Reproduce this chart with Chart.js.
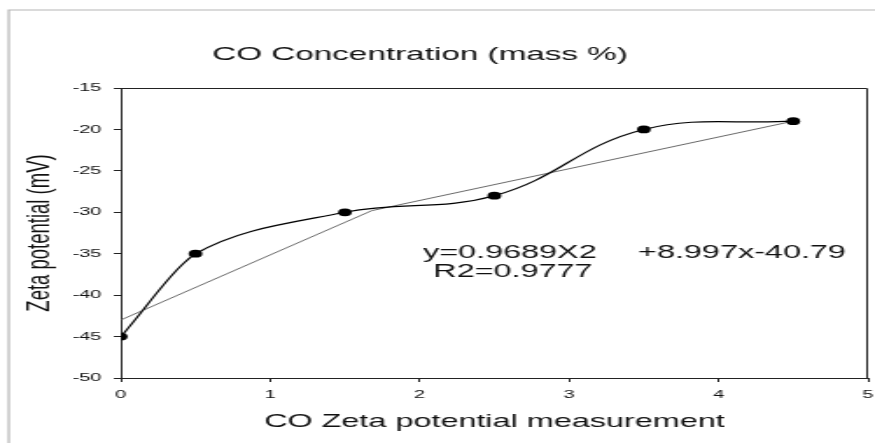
<!DOCTYPE html>
<html><head><meta charset="utf-8">
<script src="https://cdn.jsdelivr.net/npm/chart.js@4.4.1/dist/chart.umd.min.js"></script>
<style>
html,body{margin:0;padding:0;background:#fff;overflow:hidden}
canvas{display:block}
</style>
</head><body>
<!-- drawn on a narrow canvas and widened by CSS, giving the wide lettering and oval markers -->
<canvas id="c" width="500" height="443" style="width:875px;height:443px"></canvas>
<script>
// measured zeta potential at each CO level
const measureX = [0, 0.5, 1.5, 2.5, 3.5, 4.5];
const zetaY = [-45, -35, -30, -28, -20, -19];
// trend segments
const trendX = [0, 1.68, 4.5];
const trendY = [-43, -29.8, -19];
// axis ticks
const xTicks = [0, 1, 2, 3, 4, 5];
const yTicks = [-50, -45, -40, -35, -30, -25, -20, -15];
// texts
const titleText = 'CO Concentration (mass %)';
const xTitle = 'CO Zeta potential measurement';
const yTitle = 'Zeta potential (mV)';
const fitLine1a = 'y=0.9689X2';
const fitLine1b = '+8.997x-40.79';
const fitLine2 = 'R2=0.9777';

const FAMILY = '"Liberation Sans", Arial, Helvetica, sans-serif';
const INK = '#111';
const HIDDEN = 'rgba(0,0,0,0)';

const curvePoints = measureX.map((x, i) => ({x, y: zetaY[i]}));
const trendPoints = trendX.map((x, i) => ({x, y: trendY[i]}));

const decor = {
  id: 'decor',
  beforeDraw(chart) {
    const ctx = chart.ctx;
    ctx.save();
    ctx.fillStyle = '#fff';
    ctx.fillRect(0, 0, chart.width, chart.height);
    // outer panel edge
    ctx.strokeStyle = '#b5b5b5';
    ctx.lineWidth = 1.2;
    ctx.beginPath();
    ctx.moveTo(5, chart.height);
    ctx.lineTo(5, 10);
    ctx.lineTo(chart.width, 10);
    ctx.stroke();
    ctx.restore();
  },
  afterDraw(chart) {
    const {ctx, chartArea: a} = chart;
    ctx.save();
    // close the plot frame on top and right
    ctx.strokeStyle = '#222';
    ctx.lineWidth = 1;
    ctx.beginPath();
    ctx.moveTo(a.left, a.top + 0.5);
    ctx.lineTo(a.right - 0.5, a.top + 0.5);
    ctx.lineTo(a.right - 0.5, a.bottom);
    ctx.stroke();
    // title
    ctx.fillStyle = INK;
    ctx.textBaseline = 'alphabetic';
    ctx.textAlign = 'center';
    ctx.font = '19px ' + FAMILY;
    ctx.fillText(titleText, 240, 60);
    // fit equation
    ctx.textAlign = 'left';
    ctx.font = '18.5px ' + FAMILY;
    ctx.fillText(fitLine1a, 241.7, 258);
    ctx.fillText(fitLine1b, 364.6, 258);
    ctx.fillText(fitLine2, 247.6, 277);
    ctx.restore();
  }
};

new Chart(document.getElementById('c'), {
  type: 'scatter',
  data: {
    datasets: [
      {
        // smooth curve through the measurements (first span drawn by the next dataset)
        data: curvePoints,
        showLine: true,
        tension: 0.4,
        borderColor: '#000',
        borderWidth: 1.2,
        pointRadius: 3.9,
        pointBackgroundColor: '#000',
        pointBorderWidth: 0,
        segment: {borderColor: c => (c.p0DataIndex === 0 ? HIDDEN : undefined)},
        order: 1
      },
      {
        // first span of the curve, kept free of overshoot
        data: curvePoints,
        showLine: true,
        cubicInterpolationMode: 'monotone',
        borderColor: '#000',
        borderWidth: 1.2,
        pointRadius: 0,
        segment: {borderColor: c => (c.p0DataIndex === 0 ? undefined : HIDDEN)},
        order: 2
      },
      {
        data: trendPoints,
        showLine: true,
        tension: 0,
        borderColor: '#444',
        borderWidth: 0.8,
        pointRadius: 0,
        order: 3
      }
    ]
  },
  options: {
    responsive: false,
    devicePixelRatio: 1,
    animation: false,
    layout: {padding: {top: 88, right: 4, left: 0, bottom: 0}},
    plugins: {legend: {display: false}, tooltip: {enabled: false}},
    scales: {
      x: {
        type: 'linear',
        min: 0,
        max: 5,
        afterBuildTicks(s) { s.ticks = xTicks.map(v => ({value: v})); },
        afterFit(s) { s.height = 65; s.paddingLeft = 0; s.paddingRight = 0; },
        grid: {drawOnChartArea: false, drawTicks: true, tickLength: 4, color: '#222', lineWidth: 1},
        border: {display: true, color: '#222', width: 1},
        ticks: {font: {size: 11.5, family: FAMILY}, color: INK, padding: 6, maxRotation: 0,
                callback: v => String(v)},
        title: {display: true, text: xTitle, color: INK,
                font: {size: 18.5, family: FAMILY}, padding: {top: 0, bottom: 10}}
      },
      y: {
        type: 'linear',
        min: -50,
        max: -15,
        afterBuildTicks(s) { s.ticks = yTicks.map(v => ({value: v})); },
        afterFit(s) { s.width = 69; s.paddingTop = 0; s.paddingBottom = 0; },
        grid: {drawOnChartArea: false, drawTicks: true, tickLength: 4, color: '#222', lineWidth: 1},
        border: {display: true, color: '#222', width: 1},
        ticks: {font: {size: 11.5, family: FAMILY}, color: INK, padding: 7,
                callback: v => String(v)},
        title: {display: true, text: yTitle, color: INK,
                font: {size: 18.5, family: FAMILY}, padding: {top: 12, bottom: 0}}
      }
    }
  },
  plugins: [decor]
});
</script>
</body></html>
